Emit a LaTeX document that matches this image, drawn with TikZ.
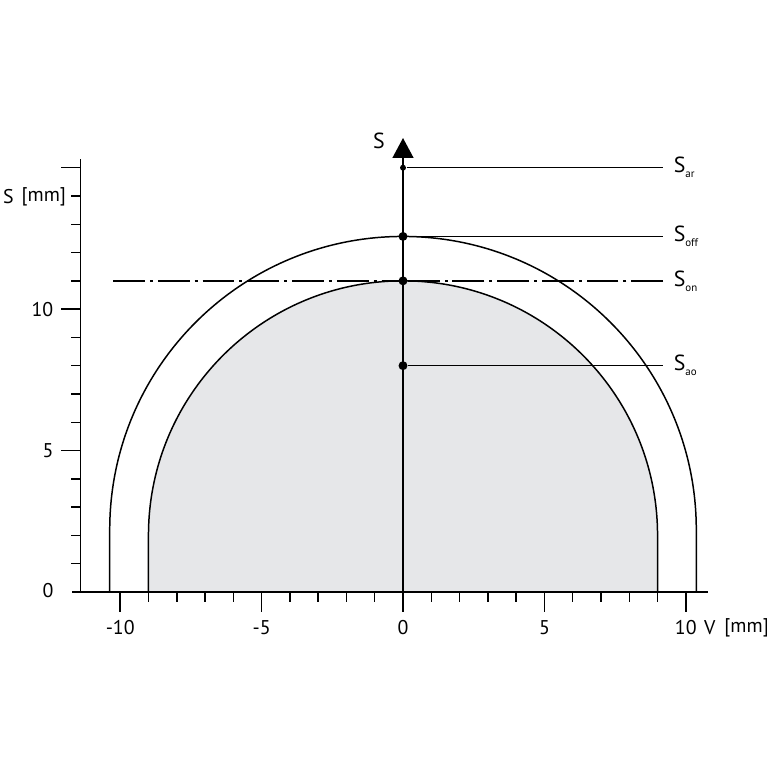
\documentclass[tikz,border=0pt]{standalone}
\usepackage{fontspec}
\setmainfont{PT Sans}
\usetikzlibrary{arrows.meta}
\definecolor{fillgray}{RGB}{230,231,233}
\newcommand{\subS}[1]{S\raisebox{-0.45ex}{\fontsize{5.5}{6}\selectfont #1}}
\begin{document}
\begin{tikzpicture}[x=0.5cm,y=0.5cm,line width=0.75pt,
  lbl/.style={font=\fontsize{10}{12}\selectfont,inner sep=0pt},
  rlbl/.style={font=\fontsize{11}{13}\selectfont,inner sep=0pt,anchor=west},
  dotmark/.style={circle,fill=black,inner sep=0pt,minimum size=4.5pt},
  smalldot/.style={circle,fill=black,inner sep=0pt,minimum size=3pt},
  dashdot/.style={dash pattern=on 16pt off 2.5pt on 1.5pt off 2.5pt}]
\useasboundingbox (-14.25,-6.19) rectangle (12.87,20.93);
% shapes
\draw[fill=fillgray] (-9,0) -- (-9,2) arc (180:0:9) -- (9,0);
\draw (-10.37,0) -- (-10.37,2.2) arc (180:0:10.37) -- (10.37,0);
% axes
\coordinate (xs) at (-11.7,0);
\coordinate (xe) at (10.8,0);
\coordinate (ys) at (-11.41,0);
\coordinate (ye) at (-11.41,15.3);
\draw (xs) -- (xe);
\draw (ys) -- (ye);
\foreach \i in {-10,...,10} {\draw (\i,0) -- (\i,-0.35);}
\foreach \i in {-10,-5,0,5,10} {\draw (\i,0) -- (\i,-0.7);}
\foreach \j in {1,...,15} {\draw (-11.41,\j) -- (-11.73,\j);}
\foreach \j in {5,10,15} {\draw (-11.41,\j) -- (-12.09,\j);}
% tick labels
\node[lbl] (xm10) at (-10,-1.27) {-10};
\node[lbl] (xm5) at (-5,-1.27) {-5};
\node[lbl] (x0) at (0,-1.27) {0};
\node[lbl] (x5) at (5,-1.27) {5};
\node[lbl] (x10) at (10,-1.27) {10};
\node[lbl] (vlab) at (10.85,-1.27) {V};
\node[lbl] (vmm) at (12.15,-1.27) {[mm]};
\node[lbl] (y0) at (-12.55,0.05) {0};
\node[lbl] (y5) at (-12.55,5) {5};
\node[lbl] (y10) at (-12.75,10) {10};
\node[lbl] (slab) at (-13.95,13.97) {S};
\node[lbl] (smm) at (-12.7,13.97) {[mm]};
% central axis
\coordinate (c0) at (0,0);
\coordinate (ctop) at (0,16.05);
\draw[-{Triangle[length=10pt,width=10.5pt]}] (c0) -- (ctop);
\node[lbl,font=\fontsize{11}{13}\selectfont] (sax) at (-0.85,15.95) {S};
% dash-dot line
\coordinate (dl) at (-10.25,11);
\coordinate (dr) at (9.2,11);
\draw[dashdot] (dl) -- (0,11);
\draw[dashdot] (dr) -- (0,11);
% points
\node[smalldot] (par) at (0,15) {};
\node[dotmark] (poff) at (0,12.57) {};
\node[dotmark] (pon) at (0,11) {};
\node[dotmark] (pao) at (0,8) {};
\coordinate (ear) at (9.2,15);
\coordinate (eoff) at (9.2,12.57);
\coordinate (eao) at (9.2,8);
\draw (par) -- (ear);
\draw (poff) -- (eoff);
\draw (pao) -- (eao);
\node[rlbl] (lar) at (9.55,15) {\subS{ar}};
\node[rlbl] (loff) at (9.55,12.57) {\subS{off}};
\node[rlbl] (lon) at (9.55,11) {\subS{on}};
\node[rlbl] (lao) at (9.55,8) {\subS{ao}};
\end{tikzpicture}
\end{document}
